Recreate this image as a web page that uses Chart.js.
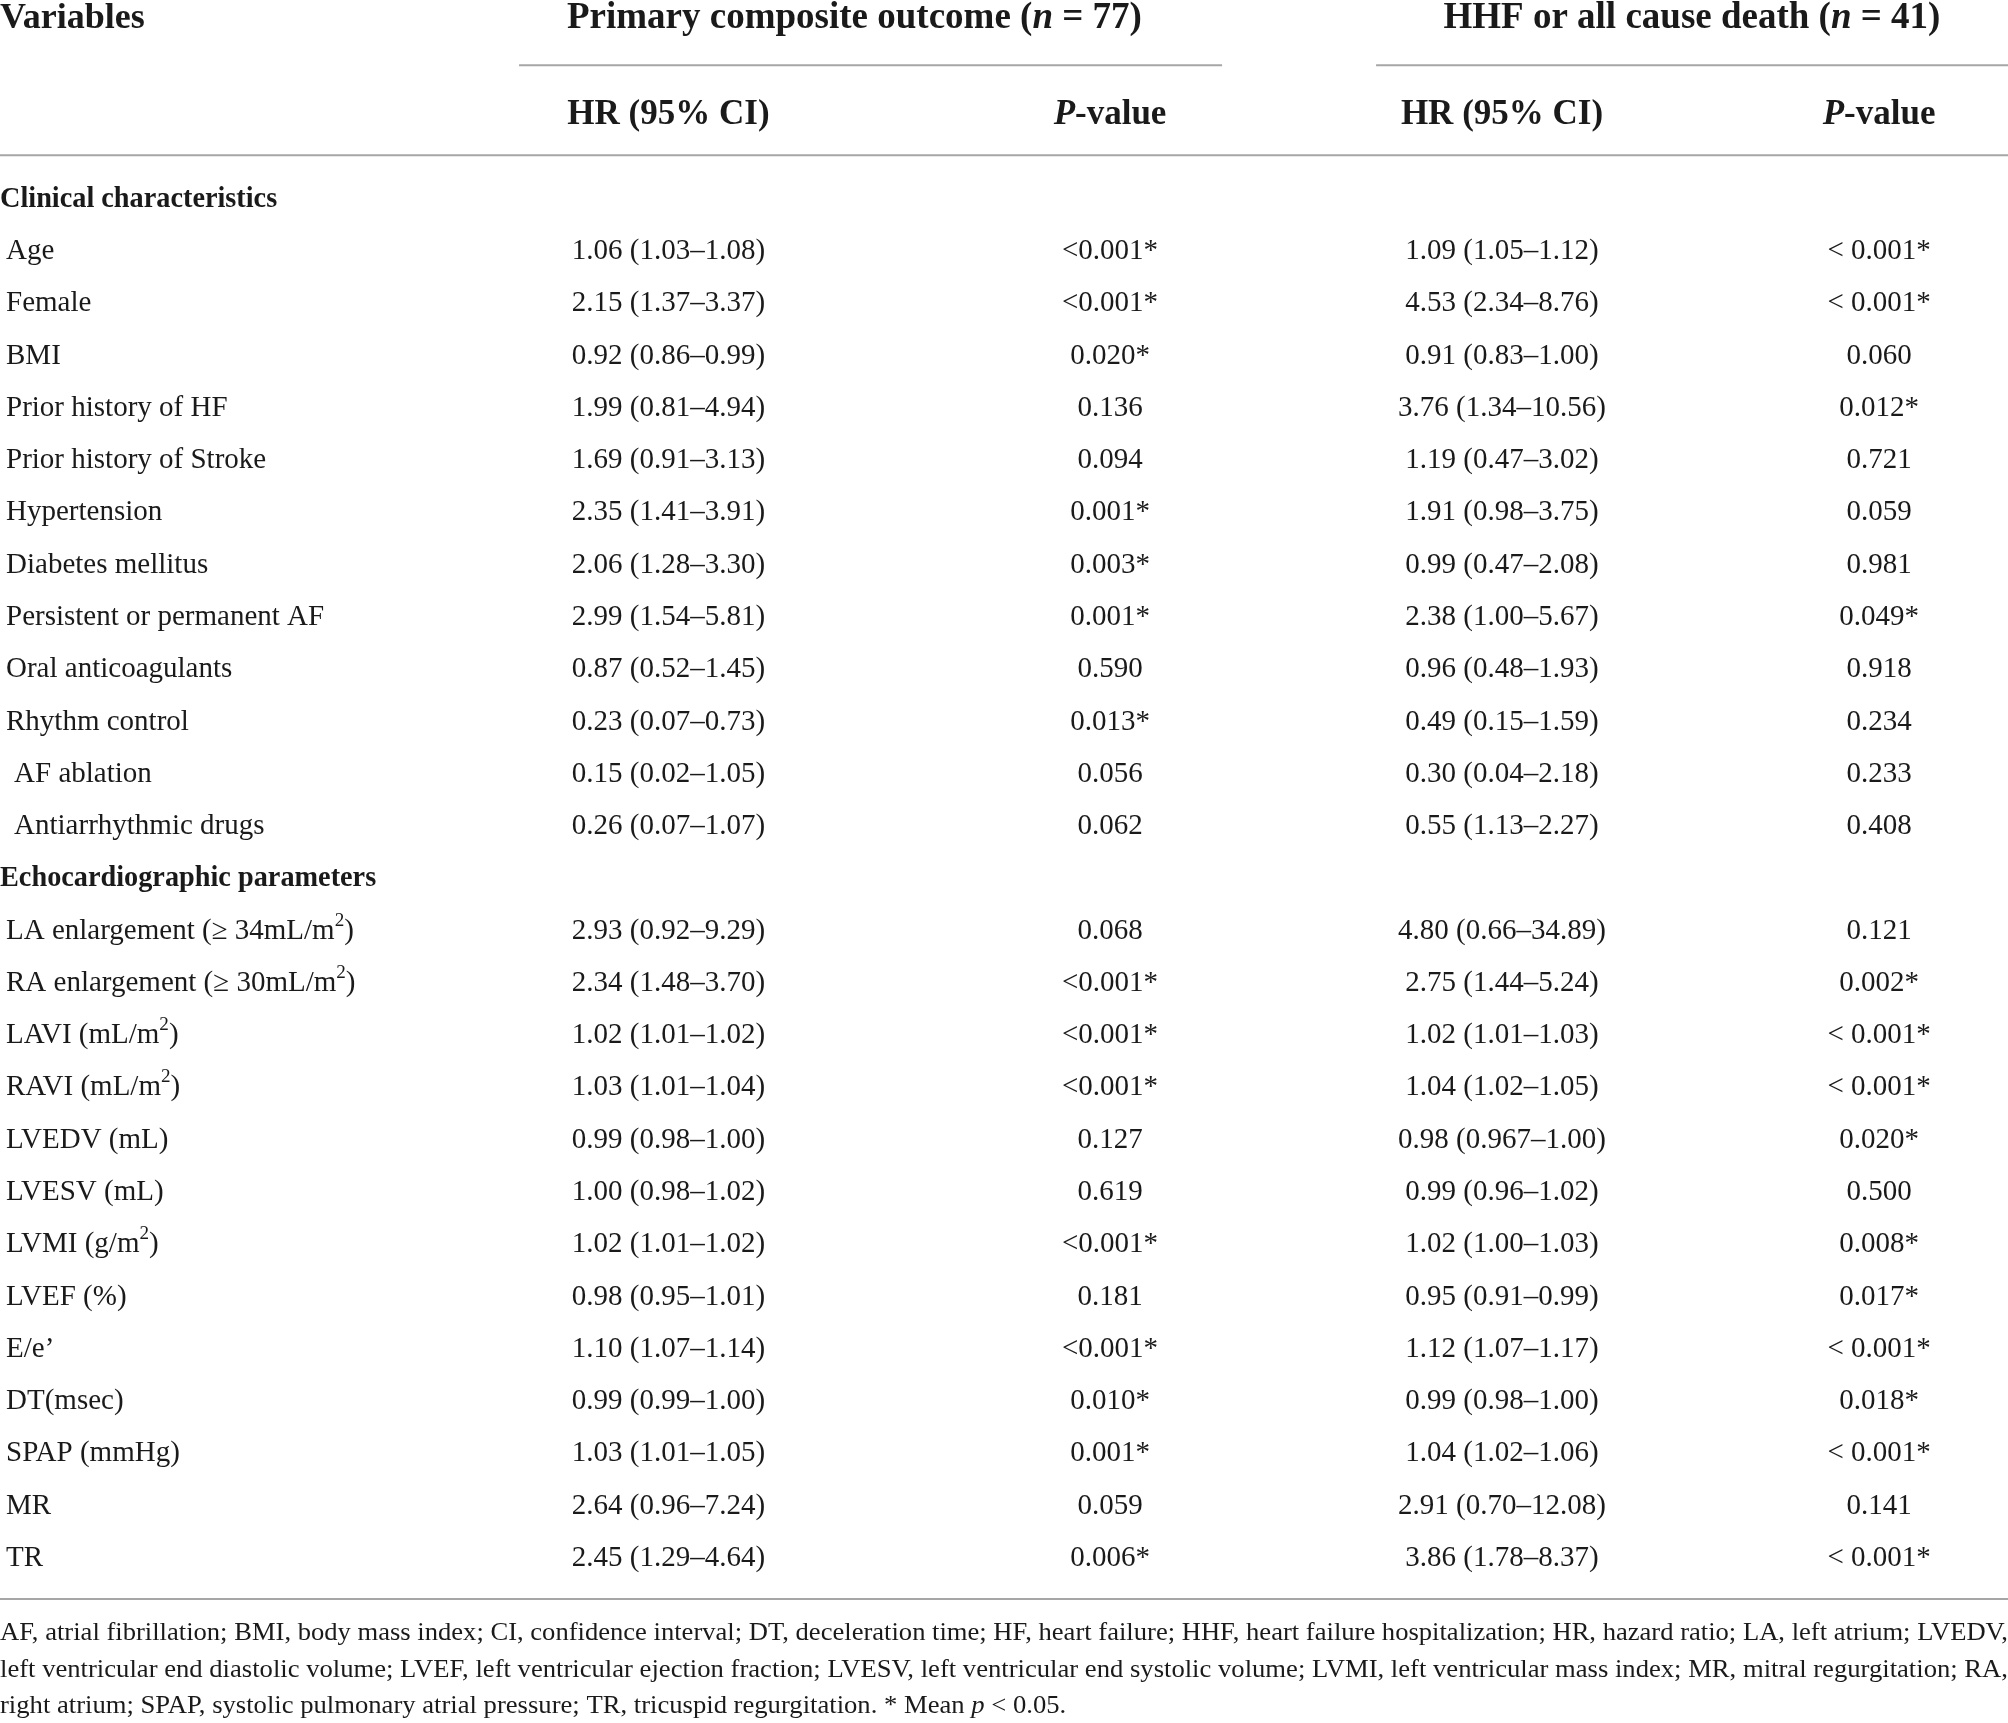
<!DOCTYPE html>
<html>
<head>
<meta charset="utf-8">
<script src="https://cdn.jsdelivr.net/npm/chart.js@4.4.1/dist/chart.umd.min.js"></script>
<style>
  html, body { margin: 0; padding: 0; background: #fff; }
  canvas { display: block; }
</style>
</head>
<body>
<canvas id="myChart" width="2008" height="1723" style="width:2008px;height:1723px"></canvas>
<script>
// table content ( _x_ = italic, ^x^ = superscript )
const groupHeaders = ["Primary composite outcome (_n_ = 77)", "HHF or all cause death (_n_ = 41)"];
const columnHeaders = ["HR (95% CI)", "_P_-value", "HR (95% CI)", "_P_-value"];
const firstHeader = "Variables";

const variables = [
  "Clinical characteristics", "Age", "Female", "BMI", "Prior history of HF", "Prior history of Stroke",
  "Hypertension", "Diabetes mellitus", "Persistent or permanent AF", "Oral anticoagulants",
  "Rhythm control", "AF ablation", "Antiarrhythmic drugs",
  "Echocardiographic parameters", "LA enlargement (≥ 34mL/m^2^)", "RA enlargement (≥ 30mL/m^2^)",
  "LAVI (mL/m^2^)", "RAVI (mL/m^2^)", "LVEDV (mL)", "LVESV (mL)", "LVMI (g/m^2^)", "LVEF (%)",
  "E/e’", "DT(msec)", "SPAP (mmHg)", "MR", "TR"
];
const sectionRows = ["Clinical characteristics", "Echocardiographic parameters"];
const subRows = ["AF ablation", "Antiarrhythmic drugs"];

const hrPrimary = [
  "", "1.06 (1.03–1.08)", "2.15 (1.37–3.37)", "0.92 (0.86–0.99)", "1.99 (0.81–4.94)", "1.69 (0.91–3.13)",
  "2.35 (1.41–3.91)", "2.06 (1.28–3.30)", "2.99 (1.54–5.81)", "0.87 (0.52–1.45)",
  "0.23 (0.07–0.73)", "0.15 (0.02–1.05)", "0.26 (0.07–1.07)",
  "", "2.93 (0.92–9.29)", "2.34 (1.48–3.70)", "1.02 (1.01–1.02)", "1.03 (1.01–1.04)",
  "0.99 (0.98–1.00)", "1.00 (0.98–1.02)", "1.02 (1.01–1.02)", "0.98 (0.95–1.01)",
  "1.10 (1.07–1.14)", "0.99 (0.99–1.00)", "1.03 (1.01–1.05)", "2.64 (0.96–7.24)", "2.45 (1.29–4.64)"
];
const pPrimary = [
  "", "<0.001*", "<0.001*", "0.020*", "0.136", "0.094", "0.001*", "0.003*", "0.001*", "0.590",
  "0.013*", "0.056", "0.062",
  "", "0.068", "<0.001*", "<0.001*", "<0.001*", "0.127", "0.619", "<0.001*", "0.181",
  "<0.001*", "0.010*", "0.001*", "0.059", "0.006*"
];
const hrHHF = [
  "", "1.09 (1.05–1.12)", "4.53 (2.34–8.76)", "0.91 (0.83–1.00)", "3.76 (1.34–10.56)", "1.19 (0.47–3.02)",
  "1.91 (0.98–3.75)", "0.99 (0.47–2.08)", "2.38 (1.00–5.67)", "0.96 (0.48–1.93)",
  "0.49 (0.15–1.59)", "0.30 (0.04–2.18)", "0.55 (1.13–2.27)",
  "", "4.80 (0.66–34.89)", "2.75 (1.44–5.24)", "1.02 (1.01–1.03)", "1.04 (1.02–1.05)",
  "0.98 (0.967–1.00)", "0.99 (0.96–1.02)", "1.02 (1.00–1.03)", "0.95 (0.91–0.99)",
  "1.12 (1.07–1.17)", "0.99 (0.98–1.00)", "1.04 (1.02–1.06)", "2.91 (0.70–12.08)", "3.86 (1.78–8.37)"
];
const pHHF = [
  "", "< 0.001*", "< 0.001*", "0.060", "0.012*", "0.721", "0.059", "0.981", "0.049*", "0.918",
  "0.234", "0.233", "0.408",
  "", "0.121", "0.002*", "< 0.001*", "< 0.001*", "0.020*", "0.500", "0.008*", "0.017*",
  "< 0.001*", "0.018*", "< 0.001*", "0.141", "< 0.001*"
];

const footnoteLines = [
  "AF, atrial fibrillation; BMI, body mass index; CI, confidence interval; DT, deceleration time; HF, heart failure; HHF, heart failure hospitalization; HR, hazard ratio; LA, left atrium; LVEDV,",
  "left ventricular end diastolic volume; LVEF, left ventricular ejection fraction; LVESV, left ventricular end systolic volume; LVMI, left ventricular mass index; MR, mitral regurgitation; RA,",
  "right atrium; SPAP, systolic pulmonary atrial pressure; TR, tricuspid regurgitation. * Mean _p_ < 0.05."
];

// layout (x in % of width, y in row units)
const colX = [33.29, 55.28, 74.80, 93.58];
const groupX = [42.55, 84.26];
const spanLines = [[25.85, 60.86], [68.53, 100]];
const labelIndent = 0.3, subIndent = 0.7;
const yHead1 = -3.45, ySpan = -2.56, yHead2 = -1.61, yHeadLine = -0.84, yBottom = 26.78;
const yFoot = [27.43, 28.15, 28.84];

const FONT = '"Liberation Serif", "Times New Roman", serif';
const TEXT = "#1a1a1a";
const RULE = "#a6a6a6";

function parseRuns(s) {
  const runs = [];
  let italic = false, sup = false, buf = "";
  const push = () => { if (buf) runs.push({ t: buf, italic: italic, sup: sup }); buf = ""; };
  for (const ch of s) {
    if (ch === "_") { push(); italic = !italic; }
    else if (ch === "^") { push(); sup = !sup; }
    else buf += ch;
  }
  push();
  return runs;
}

function runFont(r, size, bold) {
  return (r.italic ? "italic " : "") + (bold ? "bold " : "") + (r.sup ? size * 0.66 : size) + "px " + FONT;
}

function richWidth(ctx, s, size, bold) {
  let w = 0;
  for (const r of parseRuns(s)) { ctx.font = runFont(r, size, bold); w += ctx.measureText(r.t).width; }
  return w;
}

function drawRich(ctx, s, x, y, size, bold, align, sx) {
  sx = sx || 1;
  const w = richWidth(ctx, s, size, bold) * sx;
  let x0 = x;
  if (align === "center") x0 = x - w / 2;
  else if (align === "right") x0 = x - w;
  ctx.save();
  ctx.translate(x0, y);
  ctx.scale(sx, 1);
  ctx.fillStyle = TEXT;
  ctx.textBaseline = "middle";
  ctx.textAlign = "left";
  let cx = 0;
  for (const r of parseRuns(s)) {
    ctx.font = runFont(r, size, bold);
    ctx.fillText(r.t, cx, r.sup ? -size * 0.36 : 0);
    cx += ctx.measureText(r.t).width;
  }
  ctx.restore();
}

const tablePlugin = {
  id: "tableText",
  beforeDraw(chart) {
    const ctx = chart.ctx;
    ctx.save();
    ctx.fillStyle = "#fff";
    ctx.fillRect(0, 0, chart.width, chart.height);
    ctx.restore();
  },
  afterDraw(chart) {
    const ctx = chart.ctx;
    const x = chart.scales.x, y = chart.scales.y;
    const px = v => x.getPixelForValue(v);
    const py = v => y.getPixelForValue(v);

    // rules
    ctx.save();
    ctx.strokeStyle = RULE;
    ctx.lineWidth = 2;
    const hline = (a, b, v) => { ctx.beginPath(); ctx.moveTo(px(a), py(v)); ctx.lineTo(px(b), py(v)); ctx.stroke(); };
    spanLines.forEach(s => hline(s[0], s[1], ySpan));
    hline(0, 100, yHeadLine);
    hline(0, 100, yBottom);
    ctx.restore();

    // headers
    drawRich(ctx, firstHeader, px(0), py(yHead1), 36, true, "left");
    groupHeaders.forEach((h, i) => drawRich(ctx, h, px(groupX[i]), py(yHead1), 37, true, "center"));
    columnHeaders.forEach((h, i) => drawRich(ctx, h, px(colX[i]), py(yHead2), 35, true, "center"));

    // body
    const cols = [hrPrimary, pPrimary, hrHHF, pHHF];
    variables.forEach((v, i) => {
      const yy = py(i);
      if (sectionRows.includes(v)) {
        drawRich(ctx, v, px(0), yy, 29, true, "left", 0.975);
        return;
      }
      const ind = subRows.includes(v) ? subIndent : labelIndent;
      drawRich(ctx, v, px(ind), yy, 29, false, "left");
      cols.forEach((c, j) => { if (c[i]) drawRich(ctx, c[i], px(colX[j]), yy, 29, false, "center"); });
    });

    // footnote
    const fs = 25;
    let lastSx = 1;
    footnoteLines.forEach((l, i) => {
      let sx = lastSx;
      if (i < footnoteLines.length - 1) {
        sx = (px(100) - px(0)) / richWidth(ctx, l, fs, false);
        lastSx = sx;
      }
      drawRich(ctx, l, px(0), py(yFoot[i]), fs, false, "left", sx);
    });
  }
};

new Chart(document.getElementById("myChart"), {
  type: "scatter",
  data: { datasets: [] },
  options: {
    responsive: false,
    devicePixelRatio: 1,
    animation: false,
    layout: { padding: 0 },
    plugins: { legend: { display: false }, tooltip: { enabled: false } },
    scales: {
      x: { type: "linear", min: 0, max: 100, display: false },
      y: { type: "linear", min: -3.81, max: 29.15, reverse: true, display: false }
    }
  },
  plugins: [tablePlugin]
});
</script>
</body>
</html>
